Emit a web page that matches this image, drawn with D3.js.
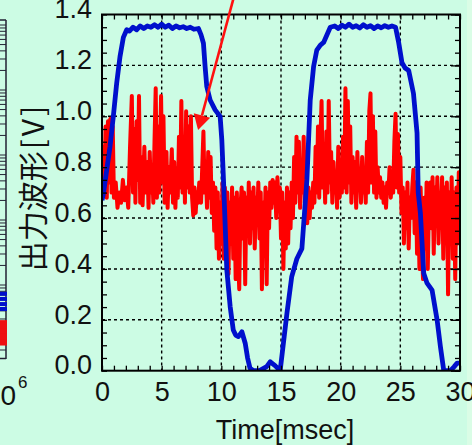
<!DOCTYPE html>
<html><head><meta charset="utf-8">
<script src="https://cdn.jsdelivr.net/npm/d3@7"></script>
<style>html,body{margin:0;padding:0;background:#ccfce4;overflow:hidden}</style>
</head><body>
<svg id="chart" width="472" height="445"></svg>
<script>
// ---------- data ----------
const xTickValues = [0, 5, 10, 15, 20, 25, 30];
const yTickValues = [0, 0.2, 0.4, 0.6, 0.8, 1.0, 1.2, 1.4];
const yTickLabels = ["0.0", "0.2", "0.4", "0.6", "0.8", "1.0", "1.2", "1.4"];
const xLabel = "Time[msec]";
const yLabel = "出力波形";
const yUnit = "[V]";

// blue output waveform [time ms, volts]
const blueSeries = [
 [0,0.67],[0.1,0.69],[0.4,0.79],[0.67,0.88],[0.81,0.94],[0.95,1.0],[1.23,1.13],[1.51,1.235],[1.79,1.31],[2.07,1.34],
 [2.3,1.335],[2.6,1.35],[2.9,1.34],[3.2,1.355],[3.5,1.345],[3.8,1.355],[4.1,1.35],[4.4,1.36],[4.7,1.35],[5.0,1.362],
 [5.3,1.35],[5.6,1.358],[5.9,1.345],[6.2,1.355],[6.5,1.348],[6.8,1.352],[7.1,1.345],[7.4,1.35],[7.7,1.342],[8.08,1.345],
 [8.3,1.32],[8.5,1.287],[8.64,1.195],[8.78,1.117],[9.06,1.064],[9.48,1.025],[9.9,0.999],[10.04,0.907],[10.18,0.75],
 [10.46,0.396],[10.74,0.252],[11.0,0.16],[11.2,0.14],[11.43,0.134],[11.72,0.153],[12.0,0.108],[12.2,0.05],[12.4,0.01],
 [12.7,0.0],[13.2,0.0],[13.8,0.016],[14.1,0.035],[14.5,0.02],[14.93,0.0],
 [15.5,0.227],[15.9,0.37],[16.33,0.44],[16.75,0.48],[17.17,0.75],[17.45,1.064],[17.73,1.195],[18.0,1.26],[18.3,1.28],
 [18.57,1.29],[19.13,1.35],[19.5,1.355],[19.8,1.345],[20.1,1.358],[20.4,1.35],[20.7,1.362],[21.0,1.35],[21.3,1.356],
 [21.6,1.347],[21.9,1.36],[22.2,1.35],[22.5,1.356],[22.8,1.345],[23.1,1.355],[23.4,1.348],[23.7,1.356],[24.0,1.35],
 [24.3,1.355],[24.6,1.35],[24.86,1.29],[25.14,1.21],[25.4,1.19],[25.7,1.18],[26.1,1.09],[26.4,0.934],[26.5,0.70],
 [26.68,0.62],[26.96,0.383],[27.24,0.344],[27.66,0.317],[28.08,0.2],[28.36,0.094],[28.64,0.0],[29.2,0.0],[29.5,0.015],
 [29.76,0.03],[30,0.03]
];

// red waveform [time ms, volts]
const redSeries = [
 [0.0,0.70],[0.1,0.88],[0.2,0.72],[0.3,0.96],[0.4,0.68],[0.5,0.98],[0.6,0.74],[0.7,0.99],[0.8,0.70],[0.9,0.96],[1.0,0.68],
 [1.15,0.74],[1.3,0.64],[1.45,0.70],[1.6,0.66],[1.75,0.75],[1.9,0.67],[2.05,0.72],
 [2.2,0.64],[2.35,0.88],[2.5,1.08],[2.6,0.70],[2.7,0.95],[2.8,0.66],[2.9,0.98],[3.0,0.75],[3.1,1.08],[3.2,0.66],
 [3.3,0.84],[3.4,0.65],[3.55,0.88],[3.65,0.70],[3.8,0.82],[3.9,0.64],[4.0,0.86],[4.1,0.70],[4.2,0.80],[4.3,0.66],[4.4,0.90],
 [4.5,1.11],[4.6,0.68],[4.7,0.96],[4.8,0.70],[4.95,1.08],[5.05,0.74],[5.15,1.00],[5.25,0.66],
 [5.4,0.86],[5.5,0.64],[5.6,0.80],[5.7,0.70],[5.85,0.87],[5.95,0.66],[6.05,0.82],[6.15,0.64],[6.25,0.78],[6.35,0.68],
 [6.45,0.92],[6.55,0.72],[6.65,1.06],[6.75,0.70],[6.85,0.90],[6.95,0.66],[7.05,1.02],[7.15,0.72],[7.25,0.96],[7.35,0.70],[7.45,1.00],
 [7.55,0.68],[7.65,0.61],[7.75,0.72],[7.85,0.62],[7.95,0.70],[8.05,0.66],[8.15,0.74],
 [8.3,0.66],[8.4,0.80],[8.5,0.94],[8.6,0.70],[8.7,0.78],[8.8,0.64],[8.9,0.86],[9.0,0.68],[9.1,0.84],[9.2,0.62],
 [9.3,0.74],[9.4,0.55],[9.5,0.72],[9.6,0.48],[9.7,0.70],[9.8,0.44],[9.9,0.66],[10.0,0.50],[10.1,0.74],[10.2,0.44],
 [10.3,0.72],[10.4,0.46],[10.5,0.70],[10.6,0.38],[10.7,0.66],[10.8,0.50],[10.9,0.72],[11.0,0.44],[11.1,0.68],[11.2,0.36],
 [11.3,0.70],[11.4,0.46],[11.5,0.32],[11.6,0.64],
 [11.7,0.72],[11.8,0.52],[11.9,0.70],[12.0,0.34],[12.1,0.68],[12.2,0.55],[12.3,0.74],[12.4,0.50],[12.5,0.70],[12.6,0.56],
 [12.7,0.72],[12.8,0.48],[12.9,0.68],[13.0,0.58],[13.1,0.74],
 [13.2,0.52],[13.3,0.70],[13.4,0.32],[13.5,0.66],[13.6,0.50],[13.7,0.72],[13.8,0.34],[13.9,0.70],[14.0,0.56],[14.1,0.74],
 [14.2,0.64],[14.3,0.75],[14.4,0.66],[14.5,0.74],[14.6,0.60],[14.7,0.76],[14.8,0.66],[14.9,0.72],[15.0,0.52],[15.1,0.70],
 [15.2,0.40],[15.3,0.66],[15.4,0.48],[15.5,0.72],[15.6,0.50],[15.7,0.70],[15.8,0.56],
 [15.9,0.74],[16.0,0.60],[16.1,0.84],[16.2,0.66],[16.3,0.92],[16.4,0.70],[16.5,0.90],[16.6,0.64],[16.7,0.82],[16.8,0.70],
 [16.9,0.92],[17.0,0.66],[17.1,0.86],[17.2,0.58],
 [17.3,0.72],[17.4,0.60],[17.5,0.70],[17.6,0.64],[17.7,0.74],[17.8,0.66],
 [17.9,0.88],[18.0,0.70],[18.1,0.96],[18.2,0.68],[18.3,0.90],[18.4,1.06],[18.5,0.72],[18.6,0.84],[18.7,0.66],[18.8,0.94],
 [18.9,0.70],[19.0,1.06],[19.1,0.74],[19.2,0.86],
 [19.3,0.66],[19.4,0.82],[19.5,0.70],[19.6,0.78],[19.7,0.64],[19.8,0.88],[19.9,0.68],[20.0,0.80],[20.1,0.70],
 [20.2,0.92],[20.3,0.72],[20.4,1.11],[20.5,0.70],[20.6,1.06],[20.7,0.74],[20.8,0.96],
 [20.9,0.66],[21.0,0.84],[21.1,0.70],[21.2,0.82],[21.3,0.64],[21.4,0.86],[21.5,0.72],[21.6,0.78],[21.7,0.66],[21.8,0.84],
 [21.9,0.70],[22.0,0.76],[22.1,0.66],
 [22.2,0.90],[22.3,0.70],[22.4,1.02],[22.5,1.09],[22.6,0.74],[22.7,1.00],[22.8,0.70],[22.9,0.94],
 [23.0,0.68],[23.1,0.80],[23.2,0.70],[23.3,0.76],[23.4,0.68],[23.5,0.74],[23.6,0.66],[23.7,0.72],[23.8,0.64],[23.9,0.74],
 [24.0,0.70],[24.1,0.80],[24.2,0.68],[24.3,0.76],
 [24.4,0.70],[24.5,0.90],[24.6,1.01],[24.7,0.72],[24.8,0.93],[24.9,0.70],[25.0,0.84],
 [25.1,0.62],[25.2,0.72],[25.3,0.50],[25.4,0.70],[25.5,0.56],[25.6,0.74],[25.7,0.48],[25.8,0.68],[25.9,0.60],[26.0,0.72],
 [26.1,0.79],[26.2,0.54],
 [26.3,0.74],[26.4,0.46],[26.5,0.70],[26.6,0.40],[26.7,0.72],[26.8,0.52],[26.9,0.36],[27.0,0.68],[27.1,0.48],[27.2,0.74],
 [27.3,0.40],[27.4,0.66],
 [27.5,0.74],[27.6,0.56],[27.7,0.76],[27.8,0.46],[27.9,0.72],[28.0,0.58],[28.1,0.76],[28.2,0.50],[28.3,0.70],[28.4,0.62],
 [28.5,0.76],[28.6,0.44],[28.7,0.72],[28.8,0.56],[28.9,0.74],[29.0,0.30],[29.1,0.70],[29.2,0.52],[29.3,0.76],[29.4,0.44],
 [29.5,0.70],[29.6,0.36],[29.7,0.72],[29.8,0.50],[29.9,0.78],[30.0,0.62]
];

// annotation arrow (data coordinates): from, to
const arrowFrom = [11.0, 1.46];
const arrowTo = [8.05, 0.946];

// neighbouring chart fragment at the left edge (log axis)
const leftLogDomain = [1, 1e5];
const leftBlueMarks = [4.2, 5.0, 6.0, 7.2];
const leftRedMarks = [1.35, 1.7, 2.1, 2.5];
const leftXLabelBase = "10";
const leftXLabelExp = "6";

// ---------- drawing ----------
const svg = d3.select("#chart");
const W = 472, H = 445;
const m = {left: 102, right: 460, top: 14.5, bottom: 370.7};

svg.append("rect").attr("width", W).attr("height", H).attr("fill", "#ccfce4");
svg.append("rect").attr("x", 467).attr("y", 0).attr("width", 5).attr("height", H).attr("fill", "#dafde6");

const x = d3.scaleLinear().domain([0, 30]).range([m.left, m.right]);
const y = d3.scaleLinear().domain([0, 1.4]).range([m.bottom, m.top]);

const FONT = "'Liberation Sans', Arial, sans-serif";

// grid
const grid = svg.append("g");
grid.selectAll("line.gx").data(xTickValues.filter(v => v > 0 && v < 30)).join("line")
  .attr("x1", d => x(d)).attr("x2", d => x(d)).attr("y1", m.top).attr("y2", m.bottom)
  .attr("stroke", "#000").attr("stroke-width", 1.4).attr("stroke-dasharray", "3,3");
grid.selectAll("line.gy").data(yTickValues.filter(v => v > 0 && v < 1.4)).join("line")
  .attr("y1", d => y(d)).attr("y2", d => y(d)).attr("x1", m.left).attr("x2", m.right)
  .attr("stroke", "#000").attr("stroke-width", 1.4).attr("stroke-dasharray", "3,3");

// clip
svg.append("clipPath").attr("id", "clip").append("rect")
  .attr("x", m.left).attr("y", m.top - 2).attr("width", m.right - m.left).attr("height", m.bottom - m.top + 2);

const line = d3.line().x(d => x(d[0])).y(d => y(d[1]));
const plot = svg.append("g").attr("clip-path", "url(#clip)");
plot.append("path").datum(redSeries).attr("d", line)
  .attr("fill", "none").attr("stroke", "#ff0000").attr("stroke-width", 4).attr("stroke-linejoin", "round");
plot.append("path").datum(blueSeries).attr("d", line)
  .attr("fill", "none").attr("stroke", "#0010cc").attr("stroke-width", 4.8).attr("stroke-linejoin", "round");

// minor ticks (inward) on all sides
const minorX = d3.range(0, 31, 1);
const minorY = d3.range(0, 1.4001, 0.05);
const axStyle = g => { g.select(".domain").remove(); g.selectAll("line").attr("stroke", "#000").attr("stroke-width", 1.3); };
svg.append("g").attr("transform", `translate(0,${m.bottom})`)
  .call(d3.axisBottom(x).tickValues(minorX).tickSize(-5).tickFormat("")).call(axStyle);
svg.append("g").attr("transform", `translate(0,${m.top})`)
  .call(d3.axisTop(x).tickValues(minorX).tickSize(-5).tickFormat("")).call(axStyle);
svg.append("g").attr("transform", `translate(${m.left},0)`)
  .call(d3.axisLeft(y).tickValues(minorY).tickSize(-5).tickFormat("")).call(axStyle);
svg.append("g").attr("transform", `translate(${m.right},0)`)
  .call(d3.axisRight(y).tickValues(minorY).tickSize(-5).tickFormat("")).call(axStyle);
svg.append("g").attr("transform", `translate(${m.right},0)`)
  .call(d3.axisRight(y).tickValues(yTickValues).tickSize(-9).tickFormat("")).call(axStyle);

// frame
svg.append("rect").attr("x", m.left).attr("y", m.top).attr("width", m.right - m.left).attr("height", m.bottom - m.top)
  .attr("fill", "none").attr("stroke", "#000").attr("stroke-width", 2);

// tick labels
const xl = svg.append("g").attr("transform", `translate(0,${m.bottom})`)
  .call(d3.axisBottom(x).tickValues(xTickValues).tickSize(0).tickPadding(11).tickFormat(d => String(d)));
xl.select(".domain").remove();
xl.selectAll("text").attr("font-family", FONT).attr("font-size", 27).attr("fill", "#111");

const yl = svg.append("g").attr("transform", `translate(${m.left},0)`)
  .call(d3.axisLeft(y).tickValues(yTickValues).tickSize(0).tickPadding(10).tickFormat((d, i) => yTickLabels[i]));
yl.select(".domain").remove();
yl.selectAll("text").attr("font-family", FONT).attr("font-size", 27).attr("fill", "#111").attr("dy", "0.12em");

// axis titles
svg.append("text").attr("x", (m.left + m.right) / 2 + 4).attr("y", 439)
  .attr("text-anchor", "middle").attr("font-family", FONT).attr("font-size", 27).attr("fill", "#111").text(xLabel);

const yt = svg.append("text").attr("transform", "translate(31,187) rotate(-90)")
  .attr("text-anchor", "middle").attr("dominant-baseline", "central")
  .attr("font-family", "'Noto Sans CJK JP', sans-serif").attr("font-size", 30).attr("fill", "#111");
yt.append("tspan").text(yLabel);
yt.append("tspan").attr("letter-spacing", 3).attr("dx", 2).text(yUnit);

// arrow
const ax0 = x(arrowFrom[0]), ay0 = y(arrowFrom[1]), ax1 = x(arrowTo[0]), ay1 = y(arrowTo[1]);
const len = Math.hypot(ax1 - ax0, ay1 - ay0), ux = (ax1 - ax0) / len, uy = (ay1 - ay0) / len;
const headL = 15, headW = 8.5;
const bx = ax1 - ux * headL, by = ay1 - uy * headL;
svg.append("line").attr("x1", ax0).attr("y1", ay0).attr("x2", bx).attr("y2", by)
  .attr("stroke", "#ff1010").attr("stroke-width", 2.6);
svg.append("path").attr("d", `M${ax1},${ay1}L${bx - uy * headW},${by + ux * headW}L${bx + uy * headW},${by - ux * headW}Z`)
  .attr("fill", "#ff1010");

// left fragment (neighbouring chart)
const ly = d3.scaleLog().domain(leftLogDomain).range([350, 25]);
const lg = svg.append("g");
lg.append("line").attr("x1", 6).attr("x2", 6).attr("y1", 20).attr("y2", 359).attr("stroke", "#223").attr("stroke-width", 1.5);
lg.append("line").attr("x1", 0).attr("x2", 6).attr("y1", 20).attr("y2", 20).attr("stroke", "#223").attr("stroke-width", 1.5);
lg.append("line").attr("x1", 0).attr("x2", 6).attr("y1", 358.5).attr("y2", 358.5).attr("stroke", "#223").attr("stroke-width", 1.5);
const logTicks = ly.ticks(50).filter(v => ly(v) > 20 && ly(v) < 358);
lg.selectAll("line.lt").data(logTicks).join("line")
  .attr("x1", 0).attr("x2", 6).attr("y1", d => ly(d)).attr("y2", d => ly(d))
  .attr("stroke", "#223").attr("stroke-width", 1);
lg.selectAll("rect.lb").data(leftBlueMarks).join("rect")
  .attr("x", 0).attr("y", d => ly(d) - 2.5).attr("width", 7).attr("height", 4).attr("fill", "#0010cc");
lg.selectAll("rect.lr").data(leftRedMarks).join("rect")
  .attr("x", 0).attr("y", d => ly(d) - 4).attr("width", 7).attr("height", 8).attr("fill", "#ee1010");
lg.append("text").attr("x", 16).attr("y", 405).attr("text-anchor", "end")
  .attr("font-family", FONT).attr("font-size", 28).attr("fill", "#111").text(leftXLabelBase);
lg.append("text").attr("x", 18).attr("y", 388)
  .attr("font-family", FONT).attr("font-size", 17).attr("fill", "#111").text(leftXLabelExp);
</script>
</body></html>
